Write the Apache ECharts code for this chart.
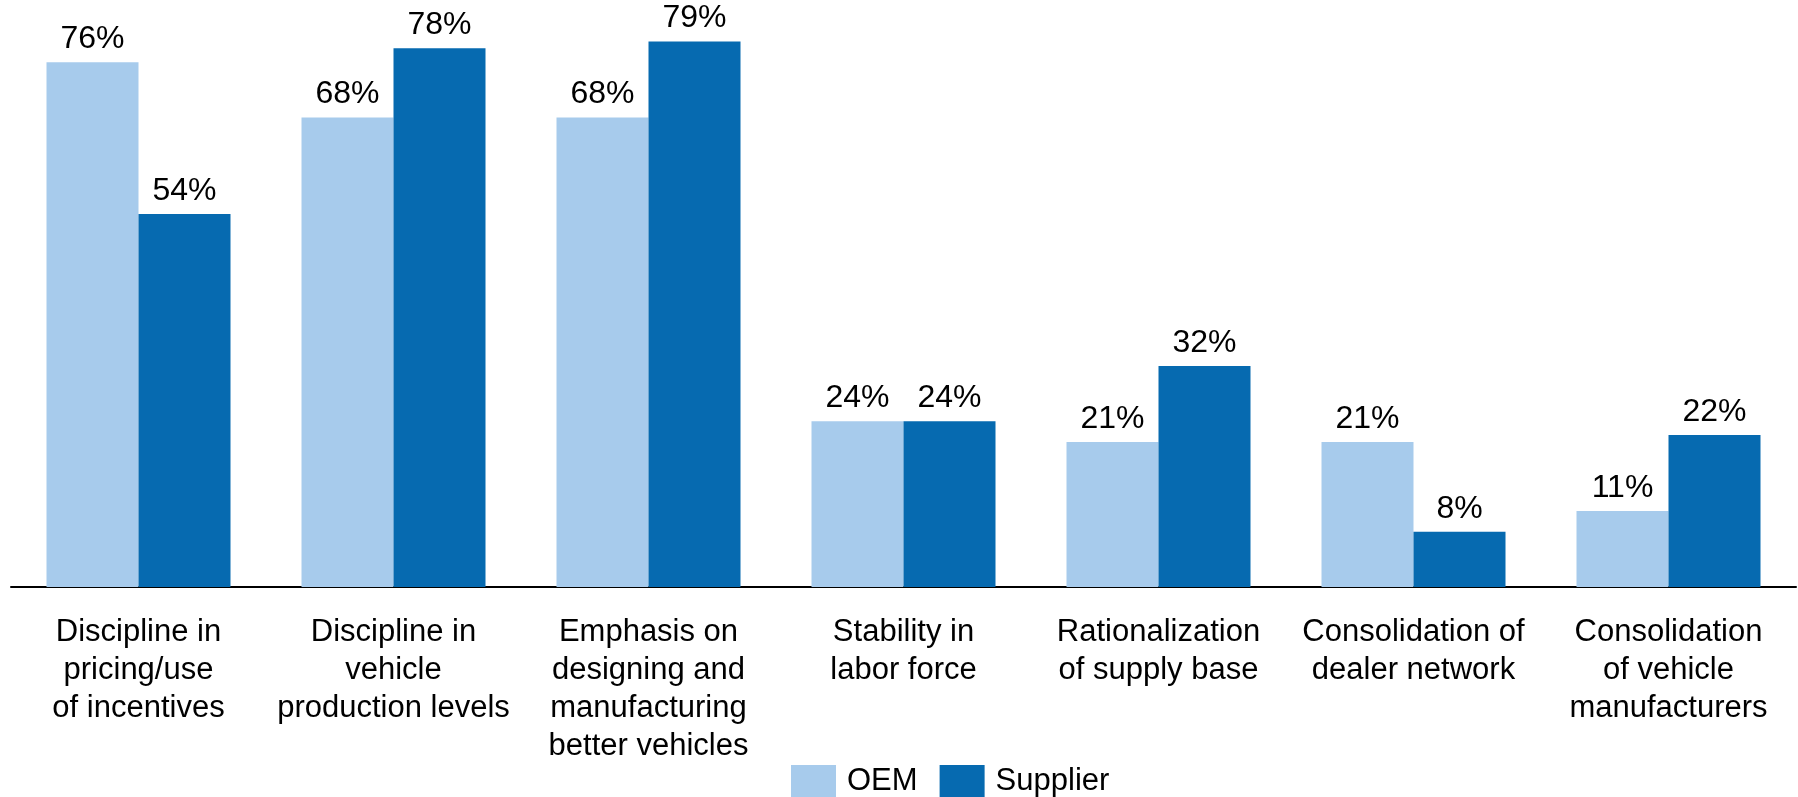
<!DOCTYPE html>
<html>
<head>
<meta charset="utf-8">
<script src="https://cdn.jsdelivr.net/npm/echarts@6/dist/echarts.min.js"></script>
<style>html,body{margin:0;padding:0;background:#fff}#c{width:1798px;height:797px}</style>
</head>
<body>
<div id="c"></div>
<script>
var categories = [
  "Discipline in\npricing/use\nof incentives",
  "Discipline in\nvehicle\nproduction levels",
  "Emphasis on\ndesigning and\nmanufacturing\nbetter vehicles",
  "Stability in\nlabor force",
  "Rationalization\nof supply base",
  "Consolidation of\ndealer network",
  "Consolidation\nof vehicle\nmanufacturers"
];
var oemValues = [76, 68, 68, 24, 21, 21, 11];
var supplierValues = [54, 78, 79, 24, 32, 8, 22];
var seriesNames = ["OEM", "Supplier"];

var font = "'Liberation Sans', Arial, Helvetica, sans-serif";
var chart = echarts.init(document.getElementById('c'));
var labelCfg = {
  show: true, position: 'top', distance: 7,
  formatter: function (p) { return p.value + '%'; },
  color: '#000', fontSize: 32, fontFamily: font
};
chart.setOption({
  animation: false,
  backgroundColor: '#fff',
  grid: { left: 11, right: 2, top: 0, bottom: 210, containLabel: false },
  legend: {
    data: seriesNames,
    left: 786, top: 760,
    itemWidth: 45, itemHeight: 33, itemGap: 22,
    icon: 'rect',
    textStyle: { fontSize: 31, fontFamily: font, color: '#000', padding: [0, 0, 0, 6] }
  },
  xAxis: {
    type: 'category',
    data: categories,
    axisLine: { lineStyle: { color: '#000', width: 2 } },
    axisTick: { show: false },
    axisLabel: { interval: 0, margin: 26, fontSize: 31, lineHeight: 38, fontFamily: font, color: '#000', align: 'center' }
  },
  yAxis: {
    type: 'value', min: 0, max: 85,
    show: false, splitLine: { show: false }
  },
  series: [
    { name: seriesNames[0], type: 'bar', data: oemValues, barWidth: 92, barGap: '0%',
      itemStyle: { color: '#A7CBEC' }, label: labelCfg },
    { name: seriesNames[1], type: 'bar', data: supplierValues, barWidth: 92, barGap: '0%',
      itemStyle: { color: '#066AB0' }, label: labelCfg }
  ]
});
</script>
</body>
</html>
